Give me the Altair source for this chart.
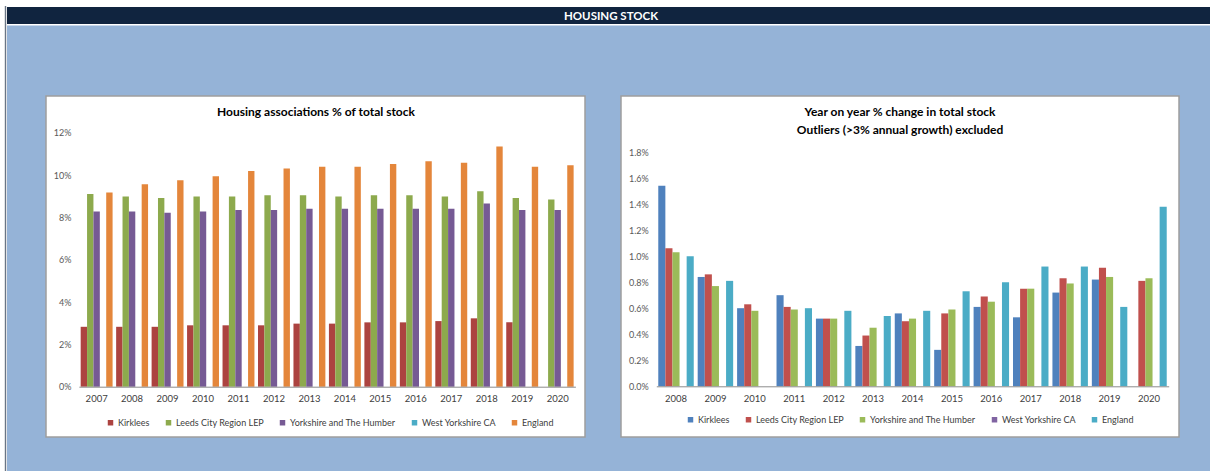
import altair as alt
import pandas as pd

# ---------------- data ----------------
series = ["Kirklees", "Leeds City Region LEP", "Yorkshire and The Humber",
          "West Yorkshire CA", "England"]

# Left chart: Housing associations % of total stock
years_hs = ["2007", "2008", "2009", "2010", "2011", "2012", "2013",
            "2014", "2015", "2016", "2017", "2018", "2019", "2020"]
kirklees_hs = [2.83, 2.83, 2.83, 2.90, 2.90, 2.90, 2.98, 2.98, 3.04, 3.04, 3.10, 3.23, 3.04, None]
lep_hs = [9.10, 8.98, 8.91, 8.98, 8.98, 9.04, 9.04, 8.98, 9.04, 9.04, 8.98, 9.23, 8.91, 8.85]
yorks_hs = [8.28, 8.28, 8.22, 8.28, 8.35, 8.35, 8.41, 8.41, 8.41, 8.41, 8.41, 8.66, 8.35, 8.35]
wyca_hs = [None, None, None, None, None, None, None, None, None, None, None, None, None, None]
england_hs = [9.18, 9.56, 9.75, 9.94, 10.19, 10.31, 10.39, 10.39, 10.52, 10.65, 10.58, 11.35, 10.39, 10.46]
ticks_hs = [0, 2, 4, 6, 8, 10, 12]

# Right chart: Year on year % change in total stock
years_yoy = ["2008", "2009", "2010", "2011", "2012", "2013", "2014",
             "2015", "2016", "2017", "2018", "2019", "2020"]
kirklees_yoy = [1.54, 0.84, 0.60, 0.70, 0.52, 0.31, 0.56, 0.28, 0.61, 0.53, 0.72, 0.82, None]
lep_yoy = [1.06, 0.86, 0.63, 0.61, 0.52, 0.39, 0.50, 0.56, 0.69, 0.75, 0.83, 0.91, 0.81]
yorks_yoy = [1.03, 0.77, 0.58, 0.59, 0.52, 0.45, 0.52, 0.59, 0.65, 0.75, 0.79, 0.84, 0.83]
wyca_yoy = [None, None, None, None, None, None, None, None, None, None, None, None, None]
england_yoy = [1.00, 0.81, None, 0.60, 0.58, 0.54, 0.58, 0.73, 0.80, 0.92, 0.92, 0.61, 1.38]
ticks_yoy = [0.0, 0.2, 0.4, 0.6, 0.8, 1.0, 1.2, 1.4, 1.6, 1.8]

colors_hs = ["#AC4340", "#8DAA4D", "#765A94", "#4BACC6", "#E4863B"]
colors_yoy = ["#4F81BD", "#C0504D", "#9BBB59", "#8064A2", "#4BACC6"]


def to_long(years, cols):
    rows = []
    for s, vals in zip(series, cols):
        for y, v in zip(years, vals):
            rows.append({"year": y, "series": s, "value": v})
    return pd.DataFrame(rows)


df_hs = to_long(years_hs, [kirklees_hs, lep_hs, yorks_hs, wyca_hs, england_hs])
df_yoy = to_long(years_yoy, [kirklees_yoy, lep_yoy, yorks_yoy, wyca_yoy, england_yoy])

FONT = "Lato"
dummy = pd.DataFrame({"a": [0]})


def rect(x1, x2, y1, y2, fill, stroke=None, sw=0):
    kw = dict(fill=fill)
    if stroke:
        kw.update(stroke=stroke, strokeWidth=sw)
    return alt.Chart(dummy).mark_rect(**kw).encode(
        x=alt.value(x1), x2=alt.value(x2), y=alt.value(y1), y2=alt.value(y2))


def label(txt, x, y, size, color="#000000", weight="bold", font=FONT):
    return alt.Chart(dummy).mark_text(
        text=txt, fontSize=size, fontWeight=weight, font=font, color=color,
        align="center", baseline="middle").encode(x=alt.value(x), y=alt.value(y))


def bars(df, years, colors, xr, yr, ydom, yticks, yexpr, lx, ly):
    return alt.Chart(df).mark_bar().encode(
        x=alt.X("year:N", sort=years,
                scale=alt.Scale(range=xr, paddingInner=0.1, paddingOuter=0.05),
                axis=alt.Axis(orient="bottom", offset=-(471 - yr[0]), title=None,
                              labelAngle=0, ticks=False, domainColor="#8C8C8C",
                              labelColor="#404040", labelFont=FONT, labelFontSize=9.5,
                              labelPadding=7, grid=False, zindex=1)),
        xOffset=alt.XOffset("series:N", sort=series,
                            scale=alt.Scale(domain=series, paddingInner=0, paddingOuter=0)),
        y=alt.Y("value:Q",
                scale=alt.Scale(domain=ydom, range=yr, nice=False, zero=True),
                axis=alt.Axis(orient="left", offset=-xr[0], title=None, values=yticks,
                              labelExpr=yexpr, ticks=False, tickSize=0, domain=False,
                              grid=False, labelColor="#595959", labelFont=FONT,
                              labelFontSize=9, labelPadding=8, zindex=1)),
        color=alt.Color("series:N",
                        scale=alt.Scale(domain=series, range=colors),
                        legend=alt.Legend(orient="none", legendX=lx, legendY=ly,
                                          direction="horizontal", title=None,
                                          symbolType="square", symbolSize=30,
                                          symbolStrokeWidth=0, labelFont=FONT,
                                          labelFontSize=9, labelColor="#404040",
                                          columnPadding=14, labelOffset=3)),
    )


left = bars(df_hs, years_hs, colors_hs, [78.9, 575.4], [386.7, 132.7], [0, 12],
            ticks_hs, "datum.value + '%'", 106, 418)
right = bars(df_yoy, years_yoy, colors_yoy, [656.3, 1168.7], [386.3, 152.0], [0, 1.8],
             ticks_yoy, "format(datum.value, '.1f') + '%'", 686, 415)

layers = [
    rect(7, 1210, 25.5, 471, "#95B3D7"),
    rect(4.8, 6.2, 6, 471, "#6A7584"),
    rect(7, 1210, 7, 24, "#10243F"),
    label("HOUSING STOCK", 611, 16.5, 11.5, color="#FFFFFF"),
    rect(46, 585, 96, 437, "#FFFFFF", stroke="#9E9E9E", sw=1.5),
    rect(621, 1179, 96, 437, "#FFFFFF", stroke="#9E9E9E", sw=1.5),
    label("Housing associations % of total stock", 316, 112, 12),
    label("Year on year % change in total stock", 900, 112, 12),
    label("Outliers (>3% annual growth) excluded", 900, 130, 12),
    left,
    right,
]

chart = alt.layer(*layers).resolve_scale(
    x="independent", y="independent", color="independent", xOffset="independent"
).resolve_axis(x="independent", y="independent").resolve_legend(
    color="independent"
).properties(
    width=1210, height=471, padding=0,
    autosize=alt.AutoSizeParams(type="none"),
    background="#FFFFFF",
).configure_view(stroke=None)

chart.save("out.html", embed_options={"renderer": "svg", "actions": False})
